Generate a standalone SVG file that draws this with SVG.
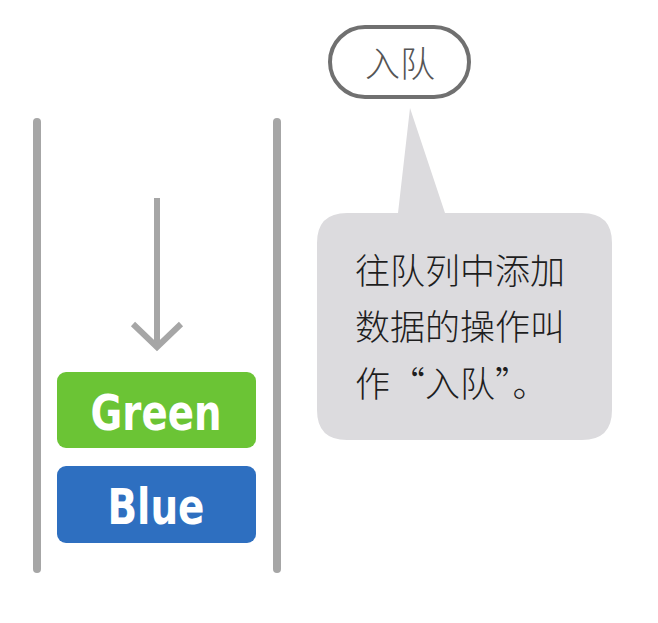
<svg xmlns="http://www.w3.org/2000/svg" width="658" height="623" viewBox="0 0 658 623">
<style>
.wall{stroke:#a6a6a6;stroke-width:8;stroke-linecap:round;fill:none}
.arrow{stroke:#a6a6a6;stroke-width:6;fill:none}
.box-label{font-family:"DejaVu Sans Condensed","DejaVu Sans","Noto Sans",sans-serif;font-weight:bold;font-size:50px;fill:#ffffff;text-anchor:middle}
.cjk{font-family:"Noto Sans CJK SC","Noto Sans CJK JP",sans-serif;font-weight:300;fill:#1e1e1e}
</style>
<rect width="658" height="623" fill="#ffffff"/>
<g id="queue">
<line class="wall" x1="37" y1="122" x2="37" y2="569"/>
<line class="wall" x1="277" y1="122" x2="277" y2="569"/>
</g>
<g id="connectors">
<line class="arrow" x1="157" y1="198" x2="157" y2="345"/>
<polyline class="arrow" points="133,324 157,347 181,324"/>
</g>
<g id="green">
<rect x="57" y="372" width="199" height="76" rx="9" fill="#6bc435"/>
<text class="box-label" x="156" y="430" textLength="131" lengthAdjust="spacingAndGlyphs">Green</text>
</g>
<g id="blue">
<rect x="57" y="466" width="199" height="77" rx="9" fill="#2e6fc0"/>
<text class="box-label" x="156" y="524" textLength="97" lengthAdjust="spacingAndGlyphs">Blue</text>
</g>
<g id="label">
<rect x="330" y="27" width="139" height="70" rx="35" fill="#ffffff" stroke="#707070" stroke-width="4"/>
<text class="cjk" x="400" y="77" font-size="35" text-anchor="middle" style="fill:#555555">入队</text>
</g>
<g id="bubble">
<path d="M347,213 L398,213 L410,108 L445,213 L582,213 Q612,213 612,243 L612,410 Q612,440 582,440 L347,440 Q317,440 317,410 L317,243 Q317,213 347,213 Z" fill="#dcdbde"/>
<text class="cjk" x="355" y="284" font-size="35">往队列中添加</text>
<text class="cjk" x="355" y="340" font-size="35">数据的操作叫</text>
<text class="cjk" x="355" y="397" font-size="35">作“入队”。</text>
</g>
</svg>
